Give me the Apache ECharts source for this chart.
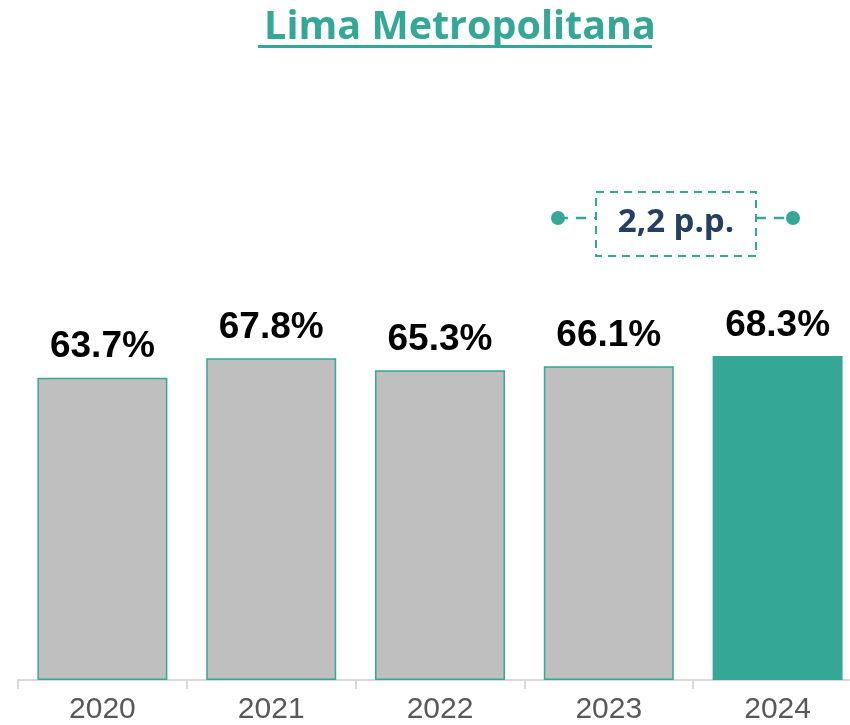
<!DOCTYPE html>
<html>
<head>
<meta charset="utf-8">
<script src="https://cdn.jsdelivr.net/npm/echarts@6/dist/echarts.min.js"></script>
<style>
html,body{margin:0;padding:0;background:#fff;overflow:hidden;width:850px;height:725px;}
#chart{width:862px;height:725px;}
</style>
</head>
<body>
<div id="chart"></div>
<script>
var titleText = 'Lima Metropolitana';
var categories = ['2020', '2021', '2022', '2023', '2024'];
var values = [63.7, 67.8, 65.3, 66.1, 68.3];
var highlightIndex = 4;

var TEAL = '#35A797';
var GREY = '#BFBFBF';

var diff = values[4] - values[3];
var diffText = diff.toFixed(1).replace('.', ',') + ' p.p.';

var chart = echarts.init(document.getElementById('chart'));

var seriesData = values.map(function (v, i) {
  return {
    value: v,
    itemStyle: i === highlightIndex
      ? { color: TEAL, borderColor: TEAL, borderWidth: 1.5 }
      : { color: GREY, borderColor: TEAL, borderWidth: 1.5 }
  };
});

var option = {
  animation: false,
  backgroundColor: '#ffffff',
  title: {
    text: titleText,
    left: 455,
    top: 3,
    textAlign: 'center',
    textStyle: {
      color: TEAL,
      fontFamily: 'Open Sans',
      fontWeight: 'bold',
      fontSize: 39.5
    }
  },
  grid: {
    left: 18,
    right: 0,
    top: 205.5,
    bottom: 42,
    containLabel: false
  },
  xAxis: {
    type: 'category',
    data: categories,
    axisLine: { show: true, lineStyle: { color: '#D9D9D9', width: 2 } },
    axisTick: { show: true, length: 9, lineStyle: { color: '#D9D9D9', width: 2 } },
    axisLabel: {
      color: '#595959',
      fontFamily: 'Liberation Sans',
      fontSize: 30,
      margin: 15
    }
  },
  yAxis: {
    type: 'value',
    min: 0,
    max: 100,
    show: false,
    splitLine: { show: false }
  },
  series: [{
    type: 'bar',
    data: seriesData,
    barCategoryGap: '23%',
    label: {
      show: true,
      position: 'top',
      distance: 12,
      formatter: function (p) { return p.value.toFixed(1) + '%'; },
      color: '#000000',
      fontFamily: 'Liberation Sans',
      fontWeight: 'bold',
      fontSize: 37
    }
  }],
  graphic: [
    { type: 'rect', shape: { x: 258, y: 45, width: 394, height: 3 }, style: { fill: TEAL } },
    { type: 'line', shape: { x1: 558, y1: 218, x2: 596, y2: 218 },
      style: { stroke: TEAL, lineWidth: 2.5, lineDash: [10, 8] } },
    { type: 'line', shape: { x1: 756, y1: 218, x2: 793, y2: 218 },
      style: { stroke: TEAL, lineWidth: 2.5, lineDash: [10, 8] } },
    { type: 'circle', shape: { cx: 558, cy: 218, r: 7 }, style: { fill: TEAL } },
    { type: 'circle', shape: { cx: 793, cy: 218, r: 7 }, style: { fill: TEAL } },
    { type: 'rect', shape: { x: 596, y: 192, width: 160, height: 64 },
      style: { fill: '#ffffff', stroke: TEAL, lineWidth: 2, lineDash: [8, 6] } },
    { type: 'text', x: 676, y: 223,
      style: { text: diffText, fill: '#243F60', font: 'bold 33px "Open Sans"', textAlign: 'center', textVerticalAlign: 'middle' } }
  ]
};
chart.setOption(option);
</script>
</body>
</html>
